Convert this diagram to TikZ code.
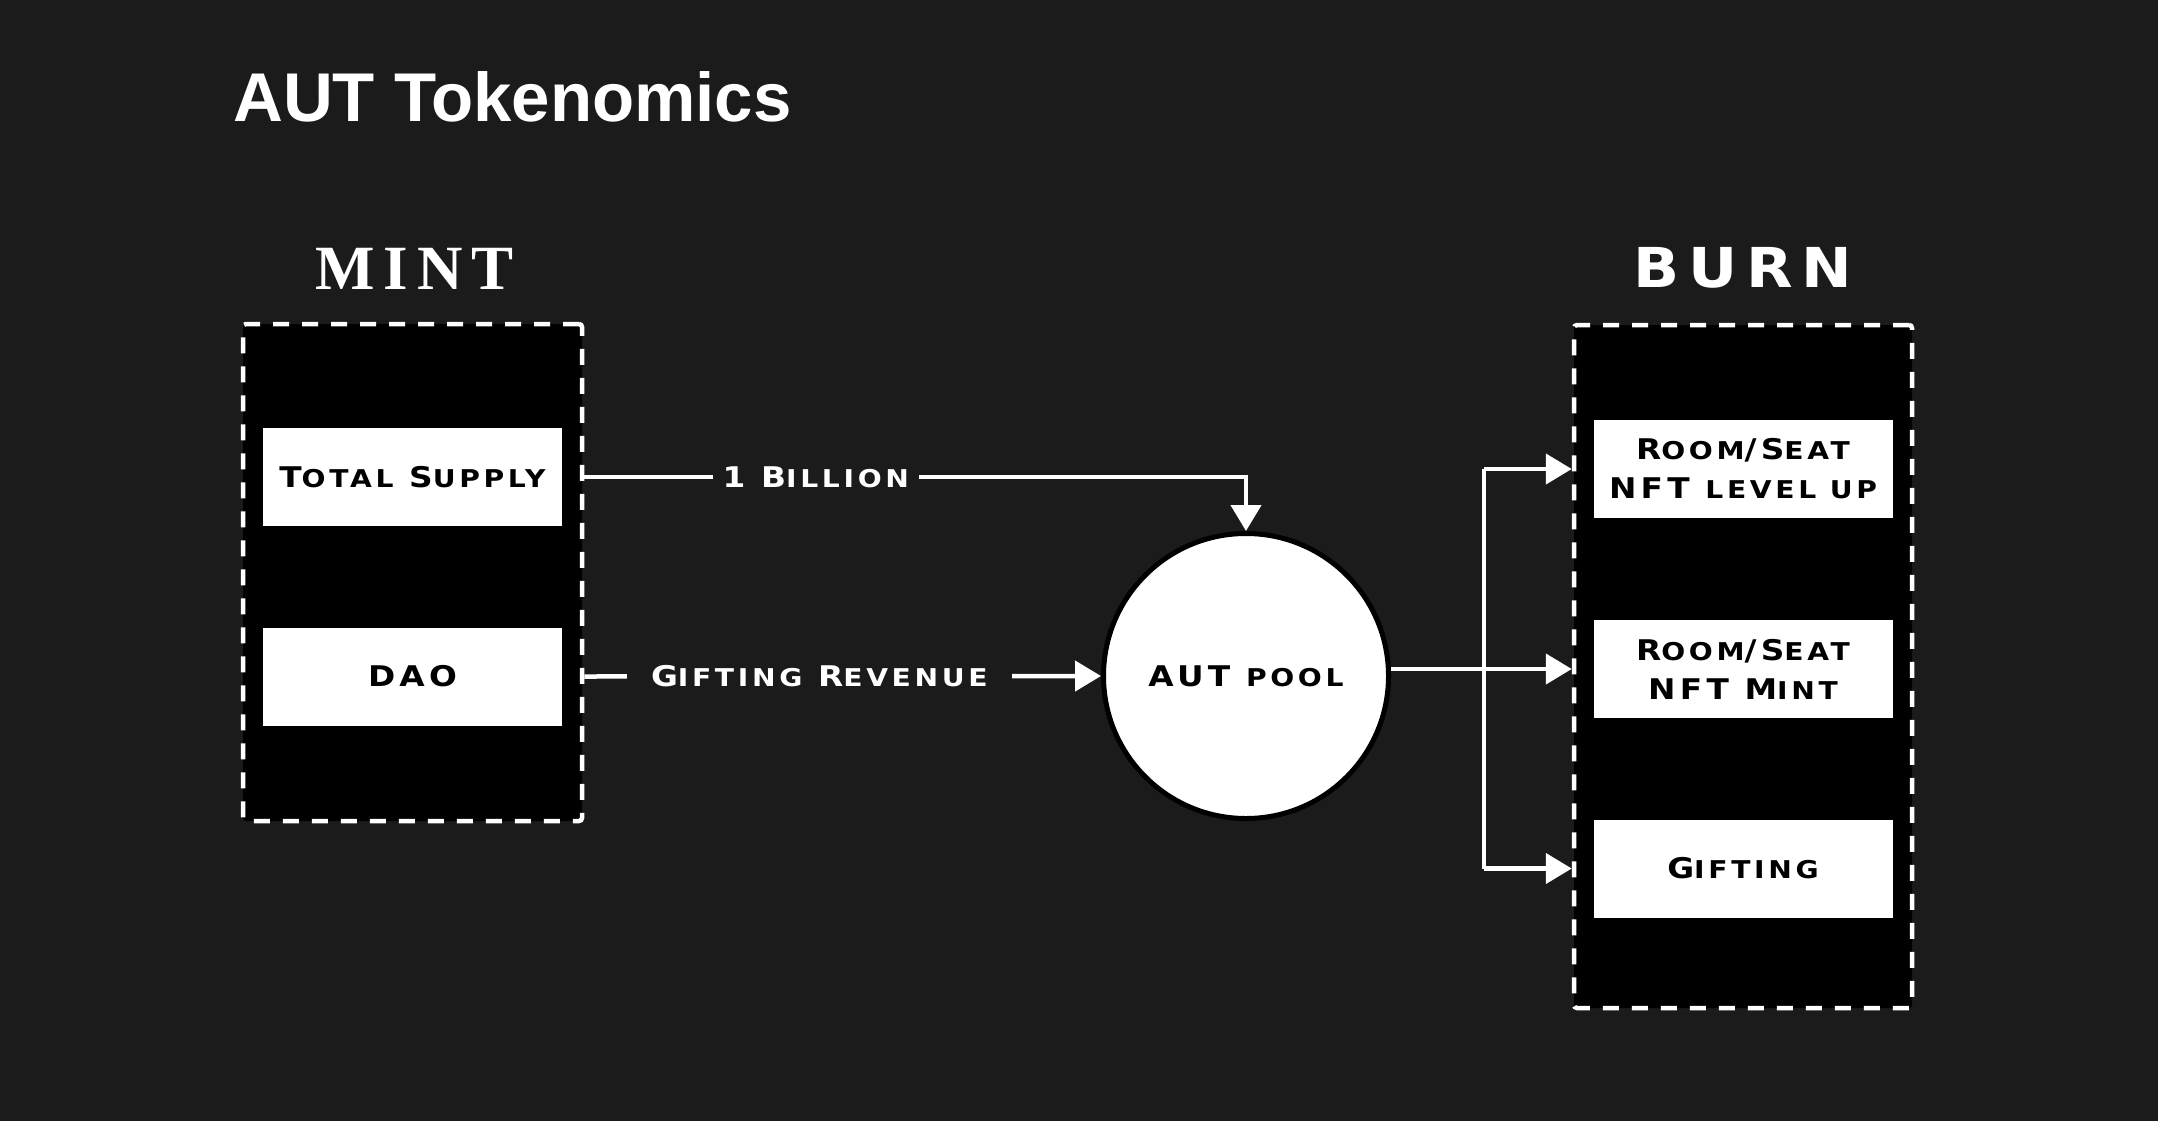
\documentclass[tikz,border=0pt]{standalone}
\usepackage{fontspec}
\usepackage{xcolor}
\usetikzlibrary{arrows.meta,positioning}

\newfontfamily\titlefont{Liberation Sans}
\newfontfamily\mintfont{Liberation Serif}[LetterSpace=14]
\newfontfamily\burnfont{DejaVu Sans}[FakeStretch=1.1,LetterSpace=16]
\newfontfamily\boxfont{DejaVu Sans}[FakeStretch=1.15,LetterSpace=15]

\definecolor{bgcol}{HTML}{1B1B1B}

\newcommand\smc[1]{{\fontsize{24.5}{39}\selectfont #1}}

\begin{document}
\begin{tikzpicture}[x=1pt,y=-1pt,
    group/.style={draw=white,fill=black,line width=4.5pt,dash pattern=on 16pt off 13pt,
        rounded corners=3pt,inner sep=0pt},
    item/.style={fill=white,text=black,inner sep=0pt,minimum width=299pt,minimum height=98pt,
        align=center,font=\boxfont\bfseries\fontsize{28.5}{39}\selectfont},
    wire/.style={draw=white,line width=4.5pt},
    flow/.style={wire,-{Triangle[length=26pt,width=30pt]}},
    lbl/.style={fill=bgcol,text=white,inner ysep=4pt,inner xsep=10pt,
        font=\boxfont\bfseries\fontsize{28.5}{39}\selectfont}]

\useasboundingbox (0,0) rectangle (2158,1120);
\fill[bgcol] (-10,-10) rectangle (2168,1130);

\node[anchor=base west,text=white,inner sep=0pt,font=\titlefont\bfseries\fontsize{69}{80}\selectfont]
    (title) at (233,121) {AUT Tokenomics};

%%%%%%%%%%%%%%% mint side

\node[anchor=base,text=white,inner sep=0pt,font=\mintfont\bfseries\fontsize{63}{70}\selectfont]
    (minthead) at (414.5,289) {MINT};
\node[group,minimum width=339pt,minimum height=497pt] (mint) at (412.5,572.5) {};
\node[item] (supply) at (412.5,477) {T\smc{OTAL} S\smc{UPPLY}};
\node[item] (dao) at (412.5,676.5) {DAO};

%%%%%%%%%%%%%%% pool

\node[circle,fill=white,draw=black,line width=5pt,minimum size=285pt,inner sep=0pt,
    font=\boxfont\bfseries\fontsize{28.5}{39}\selectfont] (pool) at (1246,676) {AUT \smc{POOL}};

\draw[flow] (supply.east -| mint.east) -- node[lbl,pos=.35]{1 B\smc{ILLION}} (supply -| pool)
    -- (pool.north);
\draw[flow] (dao.east -| mint.east) -- node[lbl,inner xsep=24pt,pos=.455]{G\smc{IFTING} R\smc{EVENUE}}
    (pool.west);

%%%%%%%%%%%%%%% burn side

\node[anchor=base,text=white,inner sep=0pt,font=\burnfont\bfseries\fontsize{55}{64}\selectfont]
    (burnhead) at (1743,287) {BURN};
\node[group,minimum width=338pt,minimum height=683pt] (burn) at (1743,666.5) {};
\node[item] (levelup) at (1743,469) {R\smc{OOM}/S\smc{EAT}\\NFT \smc{LEVEL UP}};
\node[item] (nftmint) at (1743,669) {R\smc{OOM}/S\smc{EAT}\\NFT M\smc{INT}};
\node[item] (gifting) at (1743,868.5) {G\smc{IFTING}};

\coordinate (split) at (1484,669);

\draw[wire] (pool.east |- nftmint) -- (split);
\draw[wire] (split |- levelup) -- (split |- gifting);
\draw[flow] (split |- levelup) -- (levelup -| burn.west);
\draw[flow] (split) -- (nftmint -| burn.west);
\draw[flow] (split |- gifting) -- (gifting -| burn.west);

\end{tikzpicture}
\end{document}
